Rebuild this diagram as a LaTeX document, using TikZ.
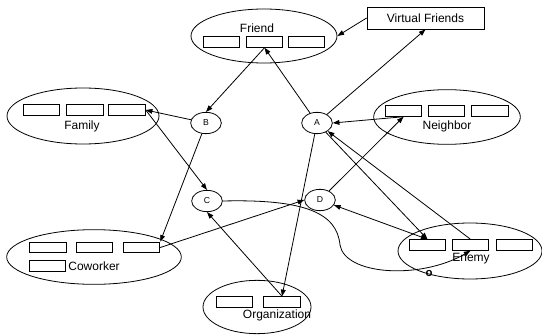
\documentclass[tikz,border=0pt]{standalone}
\usepackage{fontspec}
\setmainfont{Liberation Sans}
\usetikzlibrary{shapes.geometric,arrows.meta}
\begin{document}
\begin{tikzpicture}[x=0.75pt,y=0.75pt,yscale=-1,xscale=1,line width=0.6pt,
  group/.style={draw,ellipse,inner sep=0pt},
  slot/.style={draw,rectangle,inner sep=0pt,minimum width=27.5pt,minimum height=8pt},
  hub/.style={draw,ellipse,inner sep=0pt,minimum width=23pt,minimum height=16pt,font=\fontsize{6.5}{7}\selectfont},
  lbl/.style={inner sep=0.75pt,font=\fontsize{9}{10}\selectfont},
  arr/.style={-{Triangle[length=5pt,width=3.6pt]}},
  dblarr/.style={{Triangle[length=5pt,width=3.6pt]}-{Triangle[length=5pt,width=3.6pt]}}]
\useasboundingbox (0,0) rectangle (542,335);

%Shape: Ellipse [Friend]
\node [group,minimum width=109.5pt,minimum height=40.5pt] (friend) at (264,36) {};
\node [slot] (fr1) at (221.5,42) {};
\node [slot] (fr2) at (264.5,42) {};
\node [slot] (fr3) at (306.5,42) {};
%Shape: Ellipse [Family]
\node [group,minimum width=114pt,minimum height=42pt] (family) at (83,116) {};
\node [slot] (fa1) at (41.5,110) {};
\node [slot] (fa2) at (85,110) {};
\node [slot] (fa3) at (127,110) {};
%Shape: Ellipse [Neighbor]
\node [group,minimum width=110pt,minimum height=41pt] (neighbor) at (447,117) {};
\node [slot] (ne1) at (403.5,111) {};
\node [slot] (ne2) at (446.5,111) {};
\node [slot] (ne3) at (490,111) {};
%Shape: Ellipse [Coworker]
\node [group,minimum width=131pt,minimum height=41pt] (coworker) at (94,257) {};
\node [slot] (co1) at (48,247.5) {};
\node [slot] (co2) at (94.5,247.5) {};
\node [slot] (co3) at (141.5,247.5) {};
\node [slot] (co4) at (47.5,266) {};
%Shape: Ellipse [Organization]
\node [group,minimum width=81pt,minimum height=40pt] (organization) at (257,307) {};
\node [slot] (or1) at (234.5,302) {};
\node [slot] (or2) at (282,302) {};
%Shape: Ellipse [Enemy]
\node [group,minimum width=108pt,minimum height=42pt] (enemy) at (470,251) {};
\node [slot] (en1) at (427.5,245) {};
\node [slot] (en2) at (470.5,245) {};
\node [slot] (en3) at (514.5,245) {};
%Shape: Rectangle [Virtual Friends]
\node [draw,lbl,minimum width=87.75pt,minimum height=16.5pt] (vf) at (425.5,18) {Virtual Friends};

%Shape: Ellipse [hubs]
\node [hub] (A) at (317,123) {A};
\node [hub] (B) at (206,123) {B};
\node [hub] (C) at (207,201) {C};
\node [hub] (D) at (320,200) {D};

% Text Node
\node [lbl] (tfriend) at (257,28) {Friend};
% Text Node
\node [lbl] (tfamily) at (82,126) {Family};
% Text Node
\node [lbl] (tneighbor) at (447,126) {Neighbor};
% Text Node
\node [lbl,anchor=west] (tcoworker) at (67,266) {Coworker};
% Text Node
\node [lbl] (torganization) at (277,315) {Organization};
% Text Node
\node [lbl] (tenemy) at (471,259) {Enemy};
% Text Node
\node [inner sep=0pt,font=\bfseries\fontsize{8.5}{8.5}\selectfont] (enemyo) at (429,274) {o};

%Straight Lines
\draw [arr] (vf.west) -- (friend.east);
\draw [arr] (A) -- (vf.south);
\draw [arr] (fr2.south) -- (B.north);
\draw [arr] (A) -- (fr2.south);
\draw [arr] (B) -- (fa3.east);
\draw [arr] (fa3.east) -- (C.north);
\draw [arr] (B) -- (co3.north east);
\draw [arr] (co3.east) -- (D.west);
\draw [arr] (or2.north) -- (C.south);
\draw [arr] (A) -- (or2.north);
\draw [arr] (ne1.south) -- (A.east);
\draw [arr] (D) -- (ne1.south);
\draw [arr] (A) -- (en1.north);
\draw [arr] (en2.north) -- (A);
\draw [dblarr] (D) -- (en1.north);
%Curve Lines
\draw [arr] (C.east) .. controls (305,199) and (337,213) .. (340,245) .. controls (345,275) and (420,280) .. (en2.south);

\end{tikzpicture}
\end{document}
